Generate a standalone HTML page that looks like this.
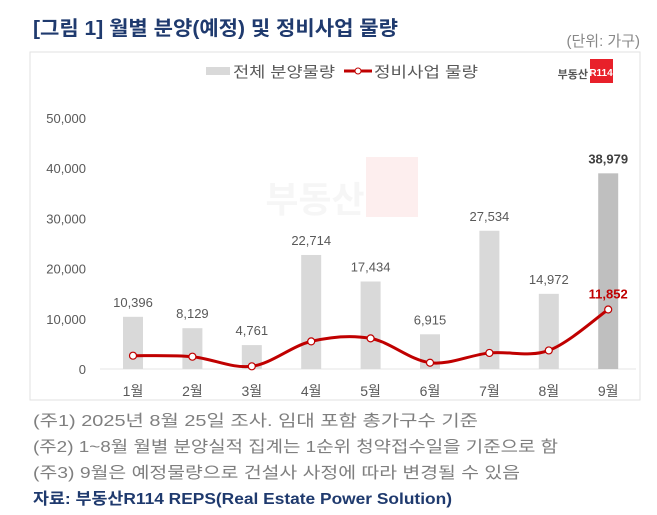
<!DOCTYPE html>
<html><head><meta charset="utf-8"><style>
body{margin:0;width:657px;height:515px;background:#fff;overflow:hidden;font-family:"Liberation Sans","Noto Sans CJK KR",sans-serif;}
svg{position:absolute;left:0;top:0}
</style></head><body>
<svg id="c" width="657" height="515">
<text x="33" y="35" font-size="20" font-weight="bold" fill="#1f3a6e" textLength="365" lengthAdjust="spacingAndGlyphs" font-family="Liberation Sans,Noto Sans CJK KR,sans-serif">[그림 1] 월별 분양(예정) 및 정비사업 물량</text>
<text x="640" y="46" font-size="15" fill="#888" text-anchor="end" font-family="Liberation Sans,Noto Sans CJK KR,sans-serif">(단위: 가구)</text>
<rect x="30" y="52" width="610" height="348" fill="#fff" stroke="#e2e2e2"/>
<text x="315" y="212" font-size="36" font-weight="bold" fill="#f6f6f6" text-anchor="middle" font-family="Liberation Sans,Noto Sans CJK KR,sans-serif">부동산</text>
<rect x="366" y="157" width="52" height="60" fill="#fdeeee"/>
<g>
<rect x="206" y="67" width="24" height="8" fill="#d9d9d9"/>
<text x="233" y="77" font-size="15" fill="#595959" textLength="102" lengthAdjust="spacingAndGlyphs" font-family="Liberation Sans,Noto Sans CJK KR,sans-serif">전체 분양물량</text>
<line x1="344" y1="71" x2="372" y2="71" stroke="#c00000" stroke-width="3"/>
<circle cx="358" cy="71" r="3" fill="#fff" stroke="#c00000"/>
<text x="374" y="77" font-size="15" fill="#595959" textLength="104" lengthAdjust="spacingAndGlyphs" font-family="Liberation Sans,Noto Sans CJK KR,sans-serif">정비사업 물량</text>
</g>
<text x="588" y="78" font-size="11" font-weight="bold" fill="#555" text-anchor="end" font-family="Liberation Sans,Noto Sans CJK KR,sans-serif">부동산</text>
<rect x="590" y="59" width="23" height="24" fill="#e8202a"/>
<text x="601" y="76" font-size="10" font-weight="bold" fill="#fff" text-anchor="middle" font-family="Liberation Sans,sans-serif">R114</text>
<line x1="100" y1="369" x2="636" y2="369" stroke="#e6e6e6"/>
<g id="marks"></g>
<text x="33" y="426" font-size="16" fill="#7f7f7f" textLength="445" lengthAdjust="spacingAndGlyphs" font-family="Liberation Sans,Noto Sans CJK KR,sans-serif">(주1) 2025년 8월 25일 조사. 임대 포함 총가구수 기준</text>
<text x="33" y="452" font-size="16" fill="#7f7f7f" textLength="525" lengthAdjust="spacingAndGlyphs" font-family="Liberation Sans,Noto Sans CJK KR,sans-serif">(주2) 1~8월 월별 분양실적 집계는 1순위 청약접수일을 기준으로 함</text>
<text x="33" y="478" font-size="16" fill="#7f7f7f" textLength="487" lengthAdjust="spacingAndGlyphs" font-family="Liberation Sans,Noto Sans CJK KR,sans-serif">(주3) 9월은 예정물량으로 건설사 사정에 따라 변경될 수 있음</text>
<text x="33" y="504" font-size="16" font-weight="bold" fill="#1f3a6e" textLength="419" lengthAdjust="spacingAndGlyphs" font-family="Liberation Sans,Noto Sans CJK KR,sans-serif">자료: 부동산R114 REPS(Real Estate Power Solution)</text>
</svg>
<script>
const categories=["1월","2월","3월","4월","5월","6월","7월","8월","9월"];
const totalSupply=[10396,8129,4761,22714,17434,6915,27534,14972,38979];
const redevelopment=[2650,2450,540,5500,6100,1250,3200,3700,11852];
const yTicks=[0,10000,20000,30000,40000,50000];
const NS="http://www.w3.org/2000/svg";
const g=document.getElementById("marks");
const y=v=>369-v/50000*251;
const x=i=>133+i*59.4;
const fmt=v=>v.toLocaleString("en-US");
function mk(t,a,txt){const e=document.createElementNS(NS,t);for(const k in a)e.setAttribute(k,a[k]);if(txt!==undefined)e.textContent=txt;g.appendChild(e);return e;}
const F="Liberation Sans,Noto Sans CJK KR,sans-serif";
yTicks.forEach(v=>{const e=mk("text",{x:86,y:y(v)+5,"font-size":13,fill:"#595959","text-anchor":"end","font-family":F},fmt(v));

});
totalSupply.forEach((v,i)=>{const last=i===totalSupply.length-1;
const b=mk("rect",{x:x(i)-10,y:y(v),width:20,height:369-y(v),fill:last?"#bfbfbf":"#d9d9d9"});


const t=mk("text",{x:x(i),y:y(v)-10,"font-size":13,fill:last?"#404040":"#595959","font-weight":last?"bold":"normal","text-anchor":"middle","font-family":F},fmt(v));


const c=mk("text",{x:x(i),y:396,"font-size":14,fill:"#595959","text-anchor":"middle","font-family":F},categories[i]);

});
const P=redevelopment.map((v,i)=>[x(i),y(v)]);
let d="M"+P[0][0]+","+P[0][1];
for(let i=0;i<P.length-1;i++){const p0=P[i-1]||P[i],p1=P[i],p2=P[i+1],p3=P[i+2]||p2;
d+=` C${p1[0]+(p2[0]-p0[0])/6},${p1[1]+(p2[1]-p0[1])/6} ${p2[0]-(p3[0]-p1[0])/6},${p2[1]-(p3[1]-p1[1])/6} ${p2[0]},${p2[1]}`;}
const ln=mk("path",{d:d,fill:"none",stroke:"#c00000","stroke-width":3});


P.forEach(p=>{const c=mk("circle",{cx:p[0],cy:p[1],r:3.5,fill:"#fff",stroke:"#c00000","stroke-width":1.2});

});
const li=redevelopment.length-1;
const lt=mk("text",{x:x(li),y:y(redevelopment[li])-11,"font-size":13,"font-weight":"bold",fill:"#c00000","text-anchor":"middle","font-family":F},fmt(redevelopment[li]));


</script>
</body></html>
